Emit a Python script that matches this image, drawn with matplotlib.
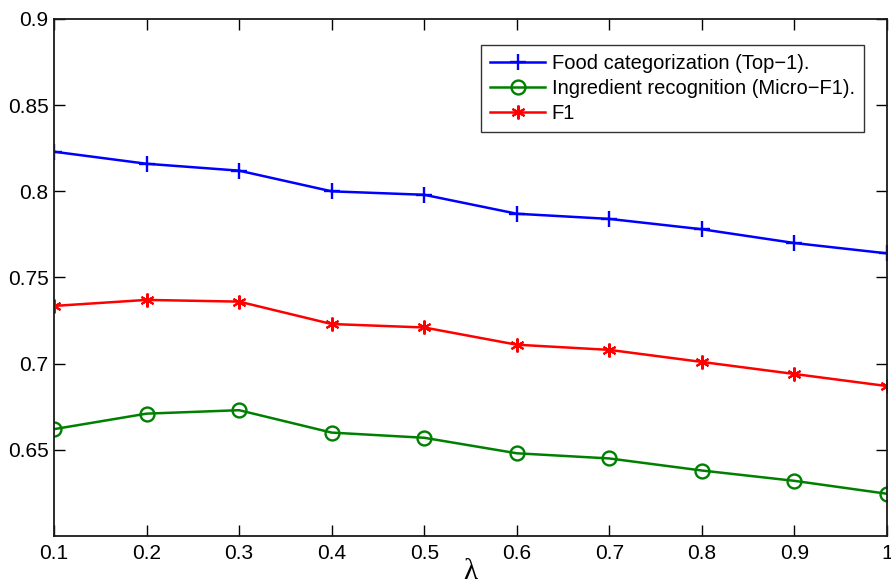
import matplotlib
matplotlib.use("Agg")
import matplotlib.pyplot as plt

lam = [0.1, 0.2, 0.3, 0.4, 0.5, 0.6, 0.7, 0.8, 0.9, 1.0]
food_top1 = [0.823, 0.816, 0.812, 0.800, 0.798, 0.787, 0.784, 0.778, 0.770, 0.764]
ingr_microf1 = [0.662, 0.671, 0.673, 0.660, 0.657, 0.648, 0.645, 0.638, 0.632, 0.6245]
f1 = [0.7335, 0.737, 0.736, 0.723, 0.721, 0.711, 0.708, 0.701, 0.694, 0.687]

labels = ["Food categorization (Top\u22121).",
          "Ingredient recognition (Micro\u2212F1).",
          "F1"]
xticks = [0.1, 0.2, 0.3, 0.4, 0.5, 0.6, 0.7, 0.8, 0.9, 1.0]
xticklabels = ["0.1", "0.2", "0.3", "0.4", "0.5", "0.6", "0.7", "0.8", "0.9", "1"]
yticks = [0.65, 0.7, 0.75, 0.8, 0.85, 0.9]
yticklabels = ["0.65", "0.7", "0.75", "0.8", "0.85", "0.9"]

plt.rcParams['font.family'] = ['Liberation Sans', 'DejaVu Sans']

fig = plt.figure(figsize=(8.91, 5.85), dpi=100)
ax = fig.add_axes([54/891, 1 - 536/585, (887 - 54)/891, (536 - 19)/585])

ax.plot(lam, food_top1, color='#0000ff', lw=1.8, marker='+', ms=11, mew=1.7, label=labels[0])
ax.plot(lam, ingr_microf1, color='#008000', lw=1.8, marker='o', ms=10, mew=1.7,
        mfc='none', label=labels[1])
ax.plot(lam, f1, color='#ff0000', lw=1.8, marker=(6, 2, 0), ms=10, mew=1.5, label=labels[2])

ax.set_xlim(0.1, 1.0)
ax.set_ylim(0.6, 0.9)
ax.set_xticks(xticks)
ax.set_xticklabels(xticklabels)
ax.set_yticks(yticks)
ax.set_yticklabels(yticklabels)
ax.tick_params(direction='in', length=8, width=1, top=True, right=True,
               labelsize=15, colors='#000000')
ax.tick_params(axis='x', pad=6)
ax.tick_params(axis='y', pad=4)
for s in ax.spines.values():
    s.set_linewidth(1.3)
    s.set_color('#1a1a1a')

ax.set_xlabel('\u03bb', fontsize=21, family=['Liberation Serif', 'DejaVu Serif'], labelpad=-3)

leg = ax.legend(loc='upper right', bbox_to_anchor=((864 - 54)/833, 1 - (45 - 19)/517),
                bbox_transform=ax.transAxes, fontsize=14.5, frameon=True, fancybox=False,
                edgecolor='#000000', handlelength=2.7, handletextpad=0.35,
                borderpad=0.45, labelspacing=0.3, borderaxespad=0)
leg.get_frame().set_linewidth(1.0)

fig.savefig('out.png', dpi=100, facecolor='white')
